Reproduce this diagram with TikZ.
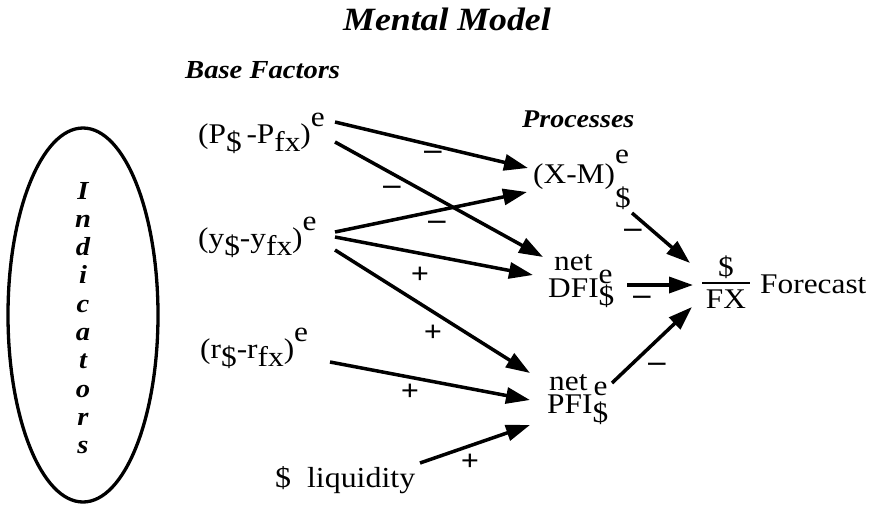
\documentclass[tikz,border=0pt]{standalone}
\usepackage{fontspec}
\setmainfont[FakeStretch=1.1]{Liberation Serif}
\usetikzlibrary{arrows.meta,shapes.geometric,calc}
\newcommand\lo[1]{\raisebox{-8pt}{#1}}
\newcommand\hi[1]{\raisebox{17pt}{#1}}
\tikzset{
  expr/.style={font=\fontsize{28.5}{30}\selectfont, inner sep=0pt, anchor=base west},
  head/.style={font=\fontsize{25.5}{30}\selectfont\bfseries\itshape, inner sep=0pt, anchor=base west},
  arr/.style={line width=3.5pt, -{Triangle[length=24pt,width=16pt]}},
  sgnm/.style={font=\fontsize{31}{31}\selectfont\bfseries, inner sep=0pt},
  sgnp/.style={font=\fontsize{29}{29}\selectfont\bfseries, inner sep=0pt},
}
\begin{document}
\begin{tikzpicture}[x=1pt,y=-1pt]
\fill[white] (0,0) rectangle (878,509);
\useasboundingbox (0,0) rectangle (878,509);

% title and headings
\node[font=\fontsize{32.5}{33}\selectfont\bfseries\itshape, anchor=base, inner sep=0pt] (title) at (447,30) {Mental Model};
\node[head, font=\fontsize{26}{30}\selectfont\bfseries\itshape] (bf) at (185,78) {Base Factors};
\node[head] (proc) at (522,127) {Processes};

% indicators ellipse
\node[draw, ellipse, line width=3.3pt, minimum width=150pt, minimum height=374pt, inner sep=0pt] (ind) at (83,315) {};
\node[align=center, inner sep=0pt, font=\fontsize{26}{28.3}\selectfont\bfseries\itshape] (indtext) at (83,318) {I\\n\\d\\i\\c\\a\\t\\o\\r\\s};

% base factors
\node[expr] (P) at (198,143) {(P\lo{\$}\,-P\lo{fx})\hi{e}};
\node[expr] (Y) at (198,247) {(y\lo{\$}-y\lo{fx})\hi{e}};
\node[expr] (R) at (200,358) {(r\lo{\$}-r\lo{fx})\hi{e}};
\node[expr, font=\fontsize{29}{30}\selectfont] (L) at (275,487) {\$~~liquidity};

% processes
\node[expr] (XM) at (533,183) {(X-M)\rlap{\raisebox{20pt}{e}}\raisebox{-24pt}{\$}};
\node[expr] (DFI) at (548,297) {\rlap{\hspace{6pt}\raisebox{27pt}{net}}DFI\rlap{\raisebox{14pt}{e}}\raisebox{-8pt}{\$}};
\node[expr] (PFI) at (547,413) {\rlap{\hspace{2pt}\raisebox{23pt}{net}}PFI\rlap{\hspace{1pt}\raisebox{18pt}{e}}\raisebox{-9pt}{\$}};

% forecast
\node[inner sep=0pt] (FX) at (726,283) {\rule{48pt}{2pt}};
\node[expr, anchor=base] (FXnum) at (726,276) {\$};
\node[expr, anchor=base] (FXden) at (726,308) {FX};
\node[expr] (fc) at (760,293) {Forecast};

% connectors
\draw[arr] ([shift={(137,-21)}]P.base west) -- ([shift={(-5,-15)}]XM.base west);
\draw[arr] ([shift={(137,-1)}]P.base west) -- ([shift={(-5,-40)}]DFI.base west);
\draw[arr] ([shift={(137,-15)}]Y.base west) -- ([shift={(-6,9)}]XM.base west);
\draw[arr] ([shift={(137,-10)}]Y.base west) -- ([shift={(-15,-22)}]DFI.base west);
\draw[arr] ([shift={(137,3)}]Y.base west) -- ([shift={(-17,-40)}]PFI.base west);
\draw[arr] ([shift={(130,4)}]R.base west) -- ([shift={(-17,-13)}]PFI.base west);
\draw[arr] ([shift={(145,-24)}]L.base west) -- ([shift={(-17,12)}]PFI.base west);
\draw[arr] ([shift={(99,30)}]XM.base west) -- ([shift={(-36,-20)}]FX.center);
\draw[arr] ([shift={(79,-12)}]DFI.base west) -- ([shift={(-33,2)}]FX.center);
\draw[arr] ([shift={(65,-30)}]PFI.base west) -- ([shift={(-34,24)}]FX.center);

% signs
\node[sgnm] (s1) at (433,155) {–};
\node[sgnm] (s2) at (392,190) {–};
\node[sgnm] (s3) at (437,225) {–};
\node[sgnp] (s4) at (420,275) {+};
\node[sgnp] (s5) at (433,333) {+};
\node[sgnp] (s6) at (410,392) {+};
\node[sgnp] (s7) at (470,462) {+};
\node[sgnm] (s8) at (633,233) {–};
\node[sgnm] (s9) at (642,300) {–};
\node[sgnm] (s10) at (657,367) {–};
\end{tikzpicture}
\end{document}
